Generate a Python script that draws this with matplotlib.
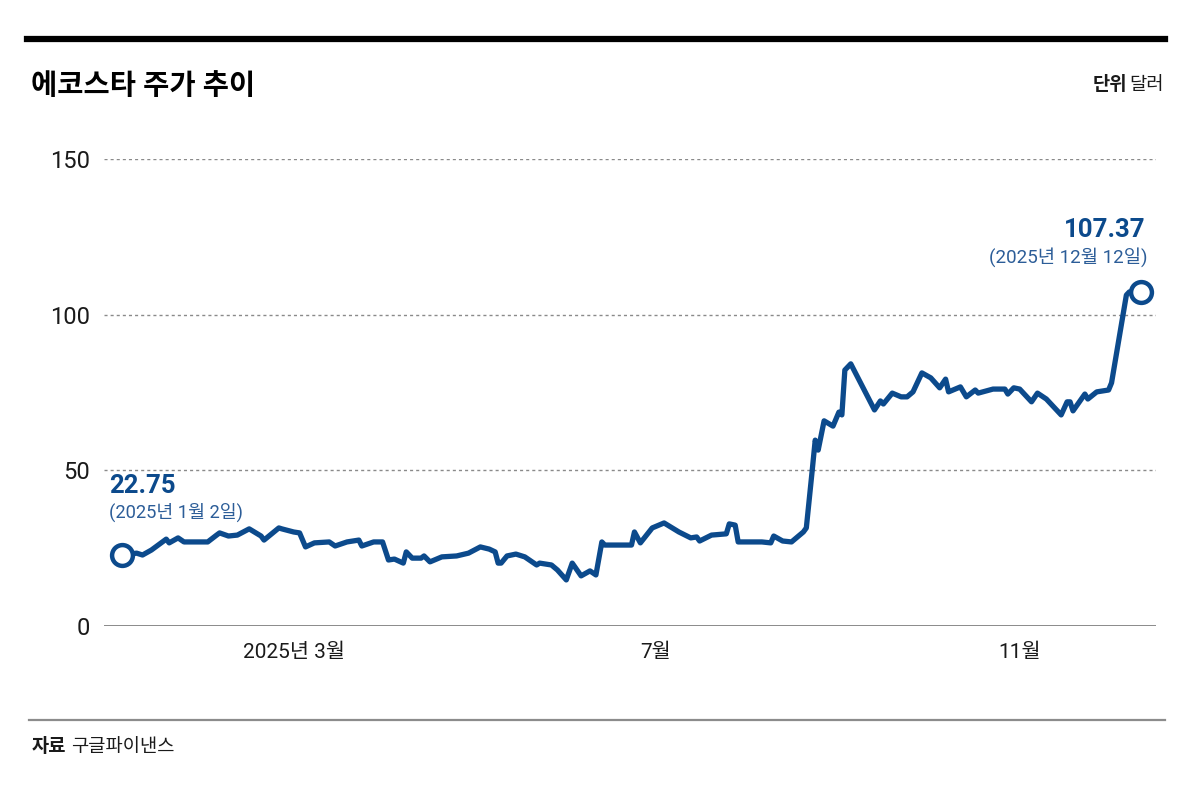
import matplotlib
matplotlib.use("Agg")
import matplotlib.pyplot as plt
import pandas as pd

plt.rcParams["font.family"] = ["Roboto", "Noto Sans CJK KR", "DejaVu Sans"]

# ---------------------------------------------------------------------------
# Data
# ---------------------------------------------------------------------------
dates = [
    "2025-01-02", "2025-01-07", "2025-01-09", "2025-01-12", "2025-01-17",
    "2025-01-18", "2025-01-21", "2025-01-23", "2025-01-31", "2025-02-03",
    "2025-02-04", "2025-02-07", "2025-02-10", "2025-02-14", "2025-02-18",
    "2025-02-19", "2025-02-24", "2025-02-25", "2025-03-01", "2025-03-03",
    "2025-03-05", "2025-03-08", "2025-03-13", "2025-03-15", "2025-03-19",
    "2025-03-23", "2025-03-24", "2025-03-28", "2025-03-31", "2025-04-02",
    "2025-04-04", "2025-04-07", "2025-04-08", "2025-04-10", "2025-04-13",
    "2025-04-14", "2025-04-16", "2025-04-20", "2025-04-25", "2025-04-29",
    "2025-05-03", "2025-05-06", "2025-05-08", "2025-05-09", "2025-05-10",
    "2025-05-12", "2025-05-15", "2025-05-18", "2025-05-22", "2025-05-23",
    "2025-05-27", "2025-05-29", "2025-06-01", "2025-06-03", "2025-06-06",
    "2025-06-09", "2025-06-11", "2025-06-13", "2025-06-14", "2025-06-23",
    "2025-06-24", "2025-06-26", "2025-06-30", "2025-07-04", "2025-07-09",
    "2025-07-13", "2025-07-15", "2025-07-16", "2025-07-20", "2025-07-25",
    "2025-07-26", "2025-07-28", "2025-07-29", "2025-08-06", "2025-08-09",
    "2025-08-10", "2025-08-13", "2025-08-16", "2025-08-20", "2025-08-21",
    "2025-08-23", "2025-08-24", "2025-08-25", "2025-08-27", "2025-08-30",
    "2025-09-01", "2025-09-02", "2025-09-03", "2025-09-05", "2025-09-13",
    "2025-09-15", "2025-09-16", "2025-09-19", "2025-09-22", "2025-09-24",
    "2025-09-26", "2025-09-29", "2025-10-02", "2025-10-05", "2025-10-07",
    "2025-10-08", "2025-10-12", "2025-10-14", "2025-10-17", "2025-10-18",
    "2025-10-23", "2025-10-27", "2025-10-28", "2025-10-30", "2025-11-01",
    "2025-11-05", "2025-11-07", "2025-11-10", "2025-11-15", "2025-11-17",
    "2025-11-18", "2025-11-19", "2025-11-23", "2025-11-24", "2025-11-27",
    "2025-12-01", "2025-12-02", "2025-12-07", "2025-12-08", "2025-12-12",
]
prices = [
    22.75, 23.4, 22.8, 24.4, 27.9,
    26.7, 28.3, 27.0, 27.0, 29.2,
    29.9, 28.9, 29.2, 31.2, 28.9,
    27.6, 31.5, 31.2, 30.2, 29.9,
    25.4, 26.7, 27.0, 25.7, 27.0,
    27.6, 25.7, 27.0, 27.0, 21.2,
    21.5, 20.2, 23.8, 21.8, 21.8,
    22.5, 20.6, 22.2, 22.5, 23.4,
    25.4, 24.7, 23.8, 20.2, 20.2,
    22.5, 23.1, 22.2, 19.6, 20.2,
    19.6, 18.0, 14.8, 20.2, 16.1,
    17.7, 16.4, 27.0, 26.0, 26.0,
    30.2, 26.7, 31.5, 33.1, 30.2,
    28.3, 28.6, 27.3, 29.2, 29.6,
    32.8, 32.4, 27.0, 27.0, 26.7,
    28.9, 27.3, 27.0, 30.2, 31.5,
    50.1, 59.7, 56.5, 65.9, 64.2,
    68.7, 67.8, 82.2, 84.2, 69.4,
    72.3, 71.3, 74.8, 73.6, 73.6,
    75.2, 81.3, 79.7, 76.5, 79.3,
    75.2, 76.8, 73.6, 75.8, 74.8,
    76.1, 76.1, 74.5, 76.5, 76.1,
    72.0, 74.8, 72.9, 67.8, 72.0,
    72.0, 69.1, 74.5, 72.9, 75.2,
    75.8, 78.1, 106.3, 107.3, 107.37,
]

x_ticks = ["2025-03-01", "2025-07-01", "2025-11-01"]
x_tick_labels = ["2025년 3월", "7월", "11월"]
y_ticks = [0, 50, 100, 150]

start_label = ("22.75", "(2025년 1월 2일)")
end_label = ("107.37", "(2025년 12월 12일)")

# ---------------------------------------------------------------------------
# Drawing
# ---------------------------------------------------------------------------
BLUE = "#0c4a8c"
TEXT = "#1a1a1a"
W, H = 1204, 795

dt = pd.to_datetime(dates)

fig = plt.figure(figsize=(W / 100, H / 100), dpi=100)
fig.patch.set_facecolor("white")
ax = fig.add_axes([104 / W, (H - 626) / H, (1156 - 104) / W, (626 - 159) / H])

ax.plot(dt, prices, color=BLUE, linewidth=3.8, solid_joinstyle="round",
        solid_capstyle="round", zorder=4)
ax.plot([dt[0], dt[-1]], [prices[0], prices[-1]], linestyle="none",
        marker="o", markersize=15, markerfacecolor="white",
        markeredgecolor=BLUE, markeredgewidth=3.2, zorder=5, clip_on=False)

ax.set_ylim(0, 150)
ax.set_xlim(pd.Timestamp("2024-12-27"), pd.Timestamp("2025-12-17"))

# grid: dotted at 50/100/150, solid baseline at 0
for v in y_ticks[1:]:
    ax.axhline(v, color="#8a8a8a", linewidth=1.0, linestyle=(0, (2.2, 2.2)),
               zorder=1)
ax.axhline(0, color="#8a8a8a", linewidth=1.4, zorder=2)

for side in ["top", "right", "left", "bottom"]:
    ax.spines[side].set_visible(False)

ax.set_yticks(y_ticks)
ax.set_yticklabels([str(v) for v in y_ticks], fontsize=17, color=TEXT)
ax.set_xticks(pd.to_datetime(x_ticks))
ax.set_xticklabels(x_tick_labels, fontsize=15, color=TEXT)
ax.tick_params(axis="y", length=0, pad=10)
ax.tick_params(axis="x", length=0, pad=12)

# value annotations
ax.annotate(start_label[0], (dt[0], prices[0]), xytext=(-13, 62),
            textcoords="offset pixels", ha="left", va="baseline",
            fontsize=18.5, fontweight="bold", color=BLUE)
ax.annotate(start_label[1], (dt[0], prices[0]), xytext=(-13, 37),
            textcoords="offset pixels", ha="left", va="baseline",
            fontsize=13.2, color="#2c5d98")
ax.annotate(end_label[0], (dt[-1], prices[-1]), xytext=(4, 55),
            textcoords="offset pixels", ha="right", va="baseline",
            fontsize=18.5, fontweight="bold", color=BLUE)
ax.annotate(end_label[1], (dt[-1], prices[-1]), xytext=(6, 29),
            textcoords="offset pixels", ha="right", va="baseline",
            fontsize=13.5, color="#2c5d98")

# header / footer decorations
fig.add_artist(plt.Line2D([27 / W, 1165 / W], [1 - 39 / H, 1 - 39 / H],
                          color="black", linewidth=4.5))
fig.text(31 / W, 1 - 94 / H, "에코스타 주가 추이", fontsize=20.5,
         fontweight="bold", color="black", ha="left", va="baseline")
fig.text(1127 / W, 1 - 90 / H, "단위", fontsize=13.5, fontweight="bold",
         color=TEXT, ha="right", va="baseline")
fig.text(1164 / W, 1 - 90 / H, "달러", fontsize=13.5, color=TEXT,
         ha="right", va="baseline")

fig.add_artist(plt.Line2D([29 / W, 1165 / W], [1 - 720 / H, 1 - 720 / H],
                          color="#8c8c8c", linewidth=1.6))
fig.text(32 / W, 1 - 752 / H, "자료", fontsize=13.5, fontweight="bold",
         color=TEXT, ha="left", va="baseline")
fig.text(71 / W, 1 - 752 / H, "구글파이낸스", fontsize=13.5, color=TEXT,
         ha="left", va="baseline")

fig.savefig("out.png", dpi=100, facecolor="white")
plt.close(fig)
